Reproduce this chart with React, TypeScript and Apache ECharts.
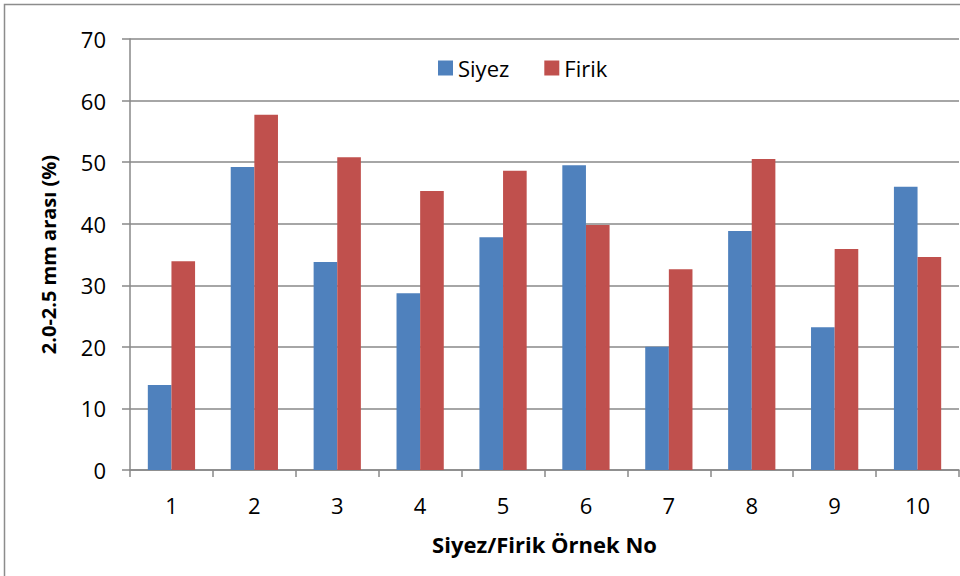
import React, { useEffect, useRef } from "react";
import * as echarts from "echarts";

const categories = ["1", "2", "3", "4", "5", "6", "7", "8", "9", "10"];
const siyez = [13.8, 49.2, 33.8, 28.7, 37.8, 49.5, 20.0, 38.8, 23.2, 46.0];
const firik = [33.9, 57.7, 50.8, 45.3, 48.6, 39.8, 32.6, 50.5, 35.9, 34.6];
const seriesNames = ["Siyez", "Firik"];
const yTitle = "2.0-2.5 mm arası (%)";
const xTitle = "Siyez/Firik Örnek No";

const FONT = "'Open Sans', Lato, sans-serif";

export default function App() {
  const ref = useRef<HTMLDivElement>(null);
  useEffect(() => {
    if (!ref.current) return;
    const chart = echarts.init(ref.current, null, { renderer: "svg" });
    chart.setOption({
      animation: false,
      backgroundColor: "#fff",
      textStyle: { fontFamily: FONT },
      graphic: [
        {
          type: "rect",
          shape: { x: 4.5, y: 4.5, width: 970, height: 600 },
          style: { fill: "none", stroke: "#8c8c8c", lineWidth: 1.5 },
          silent: true,
        },
      ],
      legend: {
        data: seriesNames,
        top: 52,
        left: 433,
        itemWidth: 15,
        itemHeight: 15,
        itemGap: 35,
        icon: "rect",
        textStyle: { fontSize: 22, color: "#000", fontFamily: FONT },
      },
      grid: { left: 130, right: 1, top: 39, bottom: 106, containLabel: false },
      xAxis: {
        type: "category",
        data: categories,
        name: xTitle,
        nameLocation: "middle",
        nameGap: 63,
        nameTextStyle: { fontSize: 22, fontWeight: "bold", color: "#000", fontFamily: FONT },
        axisLine: { lineStyle: { color: "#888", width: 1.5 } },
        axisTick: { show: true, length: 7, lineStyle: { color: "#888", width: 1.5 } },
        axisLabel: { fontSize: 22, color: "#000", margin: 24, fontFamily: FONT },
      },
      yAxis: {
        type: "value",
        min: 0,
        max: 70,
        interval: 10,
        name: yTitle,
        nameLocation: "middle",
        nameGap: 72,
        nameTextStyle: { fontSize: 20, fontWeight: "bold", color: "#000", fontFamily: FONT },
        axisLine: { show: true, lineStyle: { color: "#888", width: 1.5 } },
        axisTick: { show: true, length: 8, lineStyle: { color: "#888", width: 1.5 } },
        axisLabel: { fontSize: 22, color: "#000", margin: 24, fontFamily: FONT },
        splitLine: { lineStyle: { color: "#888", width: 1.5 } },
      },
      series: [
        {
          name: seriesNames[0],
          type: "bar",
          data: siyez,
          barGap: "0%",
          barCategoryGap: "43%",
          itemStyle: { color: "#4F81BD" },
        },
        {
          name: seriesNames[1],
          type: "bar",
          data: firik,
          barGap: "0%",
          barCategoryGap: "43%",
          itemStyle: { color: "#C0504D" },
        },
      ],
    });
    return () => chart.dispose();
  }, []);
  return (
    <div
      ref={ref}
      style={{ position: "fixed", left: 0, top: 0, width: 960, height: 576 }}
    />
  );
}
